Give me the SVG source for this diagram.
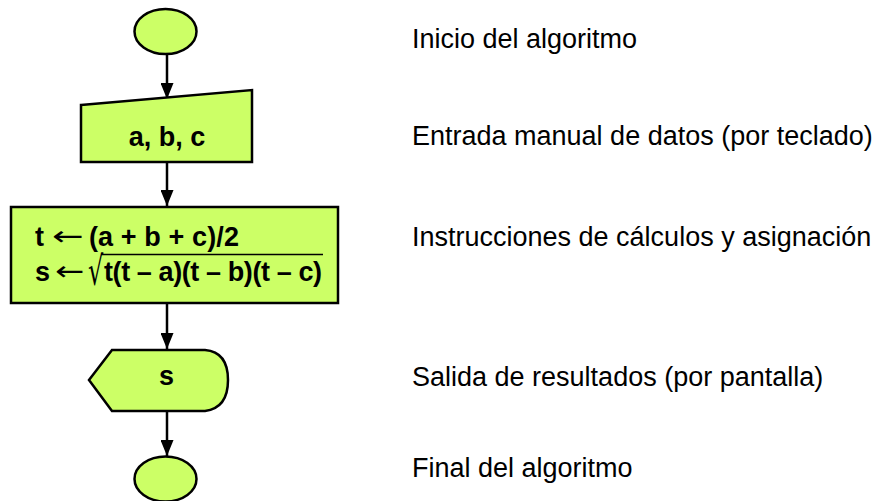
<svg xmlns="http://www.w3.org/2000/svg" width="892" height="501" viewBox="0 0 892 501">
<style>
.shape{fill:#CCFF66;stroke:#000;stroke-width:2.5}
.conn{stroke:#000;stroke-width:2.5;fill:none}
.bold{font-family:"Liberation Sans","DejaVu Sans",Arial,sans-serif;font-weight:bold;font-size:27px;fill:#000}
.sym{font-family:"DejaVu Sans",sans-serif;font-weight:normal;fill:#000}
.label{font-family:"Liberation Sans",Arial,sans-serif;font-size:27px;fill:#000}
</style>
<defs>
<marker id="arr" viewBox="0 0 16 13" refX="16" refY="6.5" markerWidth="16" markerHeight="13" markerUnits="userSpaceOnUse" orient="auto">
<path d="M0,0 L16,6.5 L0,13 Z" fill="#000"/>
</marker>
</defs>
<rect width="892" height="501" fill="#fff"/>
<g id="connectors">
<line class="conn" x1="167" y1="54" x2="167" y2="99" marker-end="url(#arr)"/>
<line class="conn" x1="167" y1="162" x2="167" y2="206" marker-end="url(#arr)"/>
<line class="conn" x1="167" y1="303" x2="167" y2="349" marker-end="url(#arr)"/>
<line class="conn" x1="167" y1="411" x2="167" y2="456" marker-end="url(#arr)"/>
</g>
<g id="inicio">
<ellipse class="shape" cx="165.5" cy="31.5" rx="31" ry="22.5"/>
</g>
<g id="entrada">
<path class="shape" d="M81,105 L252,90 L252,162 L81,162 Z"/>
<text class="bold" x="167" y="146" text-anchor="middle">a, b, c</text>
</g>
<g id="proceso">
<rect class="shape" x="11" y="207" width="327" height="96"/>
<text class="bold" x="35" y="246">t</text>
<text class="sym" font-size="27" transform="translate(52,245) scale(1.4,1)">←</text>
<text class="bold" x="89" y="246" textLength="150" lengthAdjust="spacing">(a + b + c)/2</text>
<text class="bold" x="35" y="281">s</text>
<text class="sym" font-size="27" transform="translate(55,280) scale(1.3,1)">←</text>
<text class="sym" font-size="40" transform="translate(88,285) scale(0.6,1)">√</text>
<line x1="101" y1="254.5" x2="323" y2="254.5" stroke="#000" stroke-width="1.5"/>
<text class="bold" x="104" y="281" textLength="218" lengthAdjust="spacing">t(t – a)(t – b)(t – c)</text>
</g>
<g id="salida">
<path class="shape" d="M89,380 L112,350 L205,350 Q228,352 228,380 Q228,408 205,411 L112,411 Z"/>
<text class="bold" x="159" y="385">s</text>
</g>
<g id="final">
<ellipse class="shape" cx="165.5" cy="479" rx="31" ry="22.5"/>
</g>
<g id="labels">
<text class="label" x="412" y="48">Inicio del algoritmo</text>
<text class="label" x="412" y="145">Entrada manual de datos (por teclado)</text>
<text class="label" x="412" y="246">Instrucciones de cálculos y asignación</text>
<text class="label" x="412" y="386">Salida de resultados (por pantalla)</text>
<text class="label" x="412" y="477">Final del algoritmo</text>
</g>
</svg>
